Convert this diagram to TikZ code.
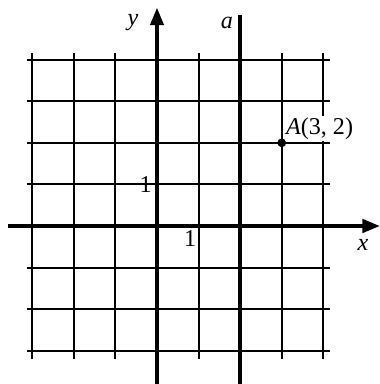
\documentclass[tikz,border=0pt]{standalone}
\usepackage{fontspec}
\setmainfont{Liberation Serif}
\usetikzlibrary{arrows.meta}
\begin{document}
\begin{tikzpicture}[
  gridline/.style={line width=1.3pt},
  axisline/.style={line width=2.6pt},
  lbl/.style={inner sep=0pt, font=\fontsize{16.5}{18}\selectfont},
  tip/.style={-{Triangle[length=12pt,width=9pt]}}
]
\useasboundingbox (-3.774,-3.798) rectangle (5.361,5.433);
% grid
\foreach \i in {-3,...,4} {
  \draw[gridline] (-3.13,\i) -- (4.17,\i);
  \draw[gridline] (\i,-3.2) -- (\i,4.17);
}
% axes
\coordinate (xs) at (-3.58,0);
\coordinate (xe) at (5.361,0);
\coordinate (ys) at (0,-3.798);
\coordinate (ye) at (0,5.25);
\coordinate (as) at (2,-3.798);
\coordinate (ae) at (2,5.07);
\draw[axisline,tip] (xs) -- (xe);
\draw[axisline,tip] (ys) -- (ye);
\draw[axisline] (as) -- (ae);
% labels
\node[lbl] (ylab) at (-0.58,4.9) {\textit{y}};
\node[lbl] (alab) at (1.68,4.88) {\textit{a}};
\node[lbl] (xlab) at (4.95,-0.45) {\textit{x}};
\node[lbl] (one1) at (-0.27,1.0) {1};
\node[lbl] (one2) at (0.8,-0.3) {1};
% point A
\node[circle, fill, inner sep=0pt, minimum size=6pt] (A) at (3,2) {};
\node[lbl, anchor=south west, fill=white, inner sep=1pt] (Alab) at (3.06,2.04) {\textit{A}(3, 2)};
\end{tikzpicture}
\end{document}
